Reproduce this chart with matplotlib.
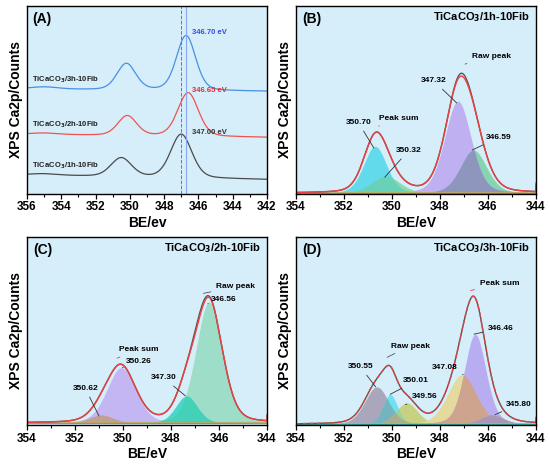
import numpy as np
import matplotlib
matplotlib.use("Agg")
import matplotlib.pyplot as plt
from matplotlib.ticker import MultipleLocator

plt.rcParams['font.family'] = ['Liberation Sans', 'DejaVu Sans']
plt.rcParams['font.weight'] = 'bold'

BG = '#d6eefa'
ETA = 0.25  # lorentzian share of the peak shape

# ---- panel A : stacked spectra ----
A_names = ['TiCaCO$_\\mathbf{3}$/1h-10Fib', 'TiCaCO$_\\mathbf{3}$/2h-10Fib', 'TiCaCO$_\\mathbf{3}$/3h-10Fib']
A_base_left = [0.100, 0.316, 0.557]
A_base_right = [0.076, 0.300, 0.545]
A_p1_pos = [350.50, 350.15, 350.20]
A_p1_amp = [0.100, 0.105, 0.140]
A_p1_sig = [0.60, 0.55, 0.55]
A_p2_pos = [347.00, 346.60, 346.72]
A_p2_amp = [0.232, 0.232, 0.292]
A_p2_sig = [0.62, 0.60, 0.56]
A_bump_amp = [0.008, 0.008, 0.012]
A_peak_labels = ['347.00 eV', '346.65 eV', '346.70 eV']
A_colors = ['#4a4a4a', '#ef5350', '#4a90e2']
A_label_colors = ['#333333', '#f02828', '#3848f0']

# ---- panels B, C, D : fitted components (centre, amplitude, sigma) ----
B_bg_x = [354, 349, 344]
B_bg_y = [0.050, 0.030, 0.003]
B_cen = [350.70, 350.25, 346.60, 347.25]
B_amp = [0.250, 0.090, 0.230, 0.490]
B_sig = [0.48, 0.60, 0.55, 0.55]
B_lab = ['350.70', '350.32', '346.59', '347.32']
B_raw_dev = [347.00, 0.016, 0.30]

C_bg_x = [354, 349, 344]
C_bg_y = [0.044, 0.032, 0.010]
C_cen = [350.90, 350.07, 347.35, 346.41]
C_amp = [0.043, 0.295, 0.145, 0.645]
C_sig = [0.50, 0.60, 0.45, 0.55]
C_lab = ['350.62', '350.26', '347.30', '346.56']
C_raw_dev = [346.85, 0.020, 0.28]

D_bg_x = [354, 349, 344]
D_bg_y = [0.032, 0.018, 0.003]
D_cen = [350.63, 350.07, 349.38, 347.08, 346.53, 345.83]
D_amp = [0.200, 0.160, 0.115, 0.265, 0.480, 0.050]
D_sig = [0.50, 0.30, 0.45, 0.60, 0.45, 0.50]
D_lab = ['350.55', '350.01', '349.56', '347.08', '346.46', '345.80']
D_raw_dev = [346.80, 0.0, 0.30]

B_cols = ['#55d8ea', '#86d9a8', '#7dd3a8', '#bcaaf0']
C_cols = ['#c8a07c', '#c2b0f2', '#36d6c6', '#98dcc2']
D_cols = ['#a6a0b6', '#62e0ee', '#c5cf74', '#e6d894', '#b6a6f2', '#b8946c']
# overlap regions of two components: (i, j, colour)
B_over = [(0, 1, '#67d2b8'), (2, 3, '#8e96be')]
C_over = [(2, 3, '#45d0b8'), (0, 1, '#c0a090')]
D_over = [(0, 1, '#74b4bf'), (1, 2, '#95d4a0'), (0, 2, '#aaae8e'),
          (3, 4, '#cfa48e'), (4, 5, '#a898b6')]


def peak(x, c, a, s):
    d = x - c
    return a * ((1 - ETA) * np.exp(-d ** 2 / (2 * s ** 2))
                + ETA / (1 + (d / (1.1774 * s)) ** 2))


x = np.linspace(342, 356, 700)

fig = plt.figure(figsize=(5.5, 4.67), dpi=100)
axA = fig.add_axes([0.049, 0.585, 0.4364, 0.4026])
axB = fig.add_axes([0.538, 0.585, 0.4364, 0.4026])
axC = fig.add_axes([0.049, 0.090, 0.4364, 0.4026])
axD = fig.add_axes([0.538, 0.090, 0.4364, 0.4026])


def style(ax, xl, xr, xlabel):
    ax.set_facecolor(BG)
    ax.set_xlim(xl, xr)
    ax.set_ylim(0, 1)
    ax.set_yticks([])
    ax.xaxis.set_major_locator(MultipleLocator(2))
    ax.xaxis.set_minor_locator(MultipleLocator(1))
    ax.tick_params(axis='x', which='major', length=3.5, width=0.9, labelsize=8.5, pad=2)
    ax.tick_params(axis='x', which='minor', length=2, width=0.8)
    for lab in ax.get_xticklabels():
        lab.set_fontweight('bold')
    for sp in ax.spines.values():
        sp.set_linewidth(1.0)
    ax.set_xlabel(xlabel, fontsize=10, fontweight='bold', labelpad=2)
    ax.set_ylabel('XPS Ca2p/Counts', fontsize=10, fontweight='bold', labelpad=3)


# panel A
style(axA, 356, 342, 'BE/ev')
for i in range(3):
    base = np.interp(x, [342, 356], [A_base_right[i], A_base_left[i]])
    y = (base + peak(x, A_p1_pos[i], A_p1_amp[i], A_p1_sig[i])
         + peak(x, A_p2_pos[i], A_p2_amp[i], A_p2_sig[i])
         + peak(x, 355.0, A_bump_amp[i], 0.8))
    axA.plot(x, y, color=A_colors[i], lw=0.9)
    axA.text(355.7, A_base_left[i] + 0.05, A_names[i], fontsize=5.5, fontweight='bold',
             color='#222222', ha='left', va='center')
    axA.text(346.4, A_base_right[i] + A_p2_amp[i] + 0.02, A_peak_labels[i],
             fontsize=5.5, fontweight='bold', color=A_label_colors[i],
             ha='left', va='center')
axA.axvline(347.03, color='#777777', lw=0.7, ls='--')
axA.axvline(346.74, color='#8aa8f0', lw=0.8)
axA.text(355.7, 0.93, '(A)', fontsize=10, fontweight='bold', ha='left', va='center')


def fit_panel(ax, tag, title, bgx, bgy, cen, amp, sig, cols, over, dev, sum_dashed):
    style(ax, 354, 344, 'BE/eV')
    bg = np.interp(x, bgx, bgy)
    total = bg.copy()
    tops = []
    comps = []
    for c, a, s, col in zip(cen, amp, sig, cols):
        g = peak(x, c, a, s)
        comps.append(g)
        ax.fill_between(x, bg, bg + g, color=col, alpha=0.9, lw=0)
        total += g
        tops.append((c, np.interp(c, x, bg) + a))
    for i, j, col in over:
        ax.fill_between(x, bg, bg + np.minimum(comps[i], comps[j]), color=col, lw=0)
    ax.plot(x, bg, color='#2aa69c', lw=0.8)
    ax.plot(x, bg + 0.004, color='#e0a850', lw=0.5)
    raw = total + peak(x, dev[0], dev[1], dev[2])
    ax.plot(x, raw, color='#555555', lw=1.0)
    if sum_dashed:
        ax.plot(x, total, color='#ef4040', lw=1.0, ls=(0, (3, 2)))
    else:
        ax.plot(x, total, color='#ef4040', lw=1.0)
    ax.text(353.75, 0.93, tag, fontsize=10, fontweight='bold', ha='left', va='center')
    ax.text(344.25, 0.94, title, fontsize=8, fontweight='bold', ha='right', va='center')
    return tops


def note(ax, txt, xytext, xy, color='#333333'):
    ax.annotate(txt, xy=xy, xytext=xytext, fontsize=6, fontweight='bold', ha='center',
                va='center', arrowprops=dict(arrowstyle='-', color=color, lw=0.6,
                                             shrinkA=2, shrinkB=0))


# panel B
tB = fit_panel(axB, '(B)', 'TiCaCO$_\\mathbf{3}$/1h-10Fib', B_bg_x, B_bg_y,
               B_cen, B_amp, B_sig, B_cols, B_over, B_raw_dev, False)
note(axB, B_lab[0], (351.40, 0.38), (tB[0][0] + 0.05, tB[0][1] - 0.01))
note(axB, B_lab[1], (349.30, 0.23), (tB[1][0] + 0.05, tB[1][1] - 0.005))
note(axB, B_lab[2], (345.55, 0.30), (tB[2][0] + 0.05, tB[2][1]))
note(axB, B_lab[3], (348.25, 0.60), (tB[3][0] + 0.05, tB[3][1] - 0.01))
note(axB, 'Raw peak', (345.85, 0.73), (346.95, 0.69), '#555555')
note(axB, 'Peak sum', (349.70, 0.40), (350.55, 0.36), '#ef4040')

# panel C
tC = fit_panel(axC, '(C)', 'TiCaCO$_\\mathbf{3}$/2h-10Fib', C_bg_x, C_bg_y,
               C_cen, C_amp, C_sig, C_cols, C_over, C_raw_dev, False)
note(axC, C_lab[0], (351.57, 0.195), (tC[0][0] + 0.1, tC[0][1] - 0.005))
note(axC, C_lab[1], (349.35, 0.34), (tC[1][0] - 0.05, tC[1][1]))
note(axC, C_lab[2], (348.30, 0.25), (tC[2][0] + 0.05, tC[2][1]))
note(axC, C_lab[3], (345.80, 0.67), (tC[3][0] + 0.05, tC[3][1] - 0.01))
note(axC, 'Raw peak', (345.30, 0.735), (346.65, 0.70), '#555555')
note(axC, 'Peak sum', (349.35, 0.40), (350.25, 0.355), '#ef4040')

# panel D
tD = fit_panel(axD, '(D)', 'TiCaCO$_\\mathbf{3}$/3h-10Fib', D_bg_x, D_bg_y,
               D_cen, D_amp, D_sig, D_cols, D_over, D_raw_dev, True)
note(axD, D_lab[0], (351.32, 0.31), (tD[0][0] + 0.05, tD[0][1]))
note(axD, D_lab[1], (349.00, 0.235), (tD[1][0], tD[1][1]))
note(axD, D_lab[2], (348.65, 0.15), (tD[2][0] + 0.05, tD[2][1] - 0.01))
note(axD, D_lab[3], (347.82, 0.305), (tD[3][0] - 0.05, tD[3][1]))
note(axD, D_lab[4], (345.45, 0.515), (tD[4][0] + 0.05, tD[4][1]))
note(axD, D_lab[5], (344.72, 0.11), (345.70, 0.055))
note(axD, 'Peak sum', (345.50, 0.75), (346.72, 0.715), '#ef4040')
note(axD, 'Raw peak', (349.24, 0.42), (350.2, 0.36), '#555555')

fig.savefig('out.png', dpi=100)
